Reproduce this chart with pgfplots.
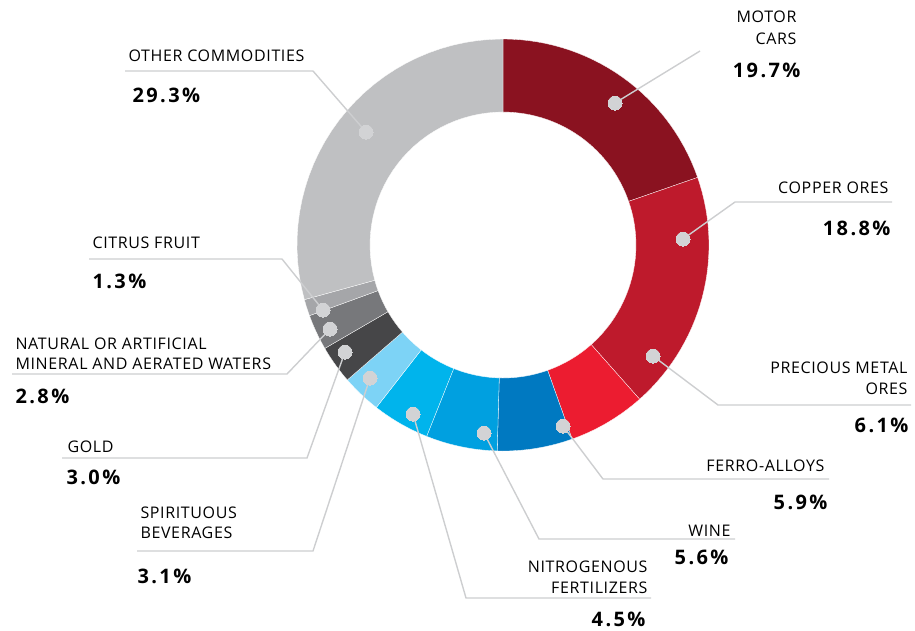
\documentclass[border=0pt]{standalone}
\usepackage{pgfplots}
\pgfplotsset{compat=1.18}
\usepackage{fontspec}
\setmainfont{Open Sans}[LetterSpace=4]
\newfontfamily\numfont{Open Sans}[LetterSpace=12]

\definecolor{cMotor}{HTML}{8A1220}
\definecolor{cCopper}{HTML}{BE1A2C}
\definecolor{cPrec}{HTML}{EC1C30}
\definecolor{cFerro}{HTML}{0079C1}
\definecolor{cWine}{HTML}{00A0E0}
\definecolor{cNitro}{HTML}{00B4EC}
\definecolor{cSpirit}{HTML}{7DD3F6}
\definecolor{cGold}{HTML}{464648}
\definecolor{cWater}{HTML}{77787B}
\definecolor{cCitrus}{HTML}{A5A6A9}
\definecolor{cOther}{HTML}{BFC0C2}
\definecolor{cDot}{HTML}{D2D3D5}
\definecolor{cLead}{HTML}{CDCED0}

% donut geometry, in pixels of the reference
\def\cx{503}\def\cy{245}\def\Ro{206}\def\Ri{133}
\pgfmathsetmacro\k{360/100.1}
\gdef\cum{0}

% one ring slice: value (percent), colour
% t = 0..30 runs along the outer arc, t = 31..61 back along the inner arc
\newcommand\slice[2]{%
  \edef\doslice{\noexpand\addplot[fill=#2, draw=white, line width=0.3pt,
      domain=0:61, samples=62, variable=\noexpand\t]
    ({\cx+(\noexpand\t<=30?\Ro:\Ri)*sin(\k*(\cum+#1*(\noexpand\t<=30?\noexpand\t:61-\noexpand\t)/30))},
     {\cy-(\noexpand\t<=30?\Ro:\Ri)*cos(\k*(\cum+#1*(\noexpand\t<=30?\noexpand\t:61-\noexpand\t)/30))}) -- cycle;}%
  \doslice
  \pgfmathsetmacro\tmp{\cum+#1}\xdef\cum{\tmp}%
}

\newcommand\lbl{\fontsize{16}{19}\selectfont}
\newcommand\pct{\numfont\bfseries\fontsize{20}{24}\selectfont}

\begin{document}
\begin{tikzpicture}
\begin{axis}[
  width=915pt, height=630pt, scale only axis,
  xmin=0, xmax=915, ymin=0, ymax=630, y dir=reverse,
  hide axis, clip=false,
]
\slice{19.7}{cMotor}
\slice{18.8}{cCopper}
\slice{6.1}{cPrec}
\slice{5.9}{cFerro}
\slice{5.6}{cWine}
\slice{4.5}{cNitro}
\slice{3.1}{cSpirit}
\slice{3.0}{cGold}
\slice{2.8}{cWater}
\slice{1.3}{cCitrus}
\slice{29.3}{cOther}

% leader lines
\addplot[cLead, line width=1.4pt] coordinates {(700,51) (615,103)};
\addplot[cLead, line width=1.4pt] coordinates {(892,202) (735,202) (683,239)};
\addplot[cLead, line width=1.4pt] coordinates {(911,405) (718,405) (653,356)};
\addplot[cLead, line width=1.4pt] coordinates {(829,479) (603,479) (563,426)};
\addplot[cLead, line width=1.4pt] coordinates {(735,539) (539,539) (484,433)};
\addplot[cLead, line width=1.4pt] coordinates {(651,598) (466,598) (413,414)};
\addplot[cLead, line width=1.4pt] coordinates {(137,551) (313,551) (370,378)};
\addplot[cLead, line width=1.4pt] coordinates {(62,458) (307,458) (345,352)};
\addplot[cLead, line width=1.4pt] coordinates {(12,374) (287,374) (330,329)};
\addplot[cLead, line width=1.4pt] coordinates {(89,259) (282,259) (323,310)};
\addplot[cLead, line width=1.4pt] coordinates {(125,71) (313,71) (366,132)};

% dots
\addplot[only marks, color=cDot, mark=*, mark size=7pt,
         mark options={fill=cDot, draw=cDot, line width=0pt}]
  coordinates {(615,103) (683,239) (653,356) (563,426) (484,433) (413,414)
               (370,378) (345,352) (330,329) (323,310) (366,132)};

% labels
\node[anchor=base east, font=\lbl] at (axis cs:800,22) {MOTOR};
\node[anchor=base east, font=\lbl] at (axis cs:800,44) {CARS};
\node[anchor=base east, font=\pct] at (axis cs:804,77) {19.7\%};

\node[anchor=base east, font=\lbl] at (axis cs:892,193) {COPPER ORES};
\node[anchor=base east, font=\pct] at (axis cs:894,235) {18.8\%};

\node[anchor=base east, font=\lbl] at (axis cs:911,373) {PRECIOUS METAL};
\node[anchor=base east, font=\lbl] at (axis cs:911,394) {ORES};
\node[anchor=base east, font=\pct] at (axis cs:912,432) {6.1\%};

\node[anchor=base east, font=\lbl] at (axis cs:828,471) {FERRO-ALLOYS};
\node[anchor=base east, font=\pct] at (axis cs:831,509) {5.9\%};

\node[anchor=base east, font=\lbl] at (axis cs:734,536) {WINE};
\node[anchor=base east, font=\pct] at (axis cs:732,564) {5.6\%};

\node[anchor=base east, font=\lbl] at (axis cs:651,572) {NITROGENOUS};
\node[anchor=base east, font=\lbl] at (axis cs:651,593) {FERTILIZERS};
\node[anchor=base east, font=\pct] at (axis cs:649,626) {4.5\%};

\node[anchor=base west, font=\lbl] at (axis cs:125,61) {OTHER COMMODITIES};
\node[anchor=base west, font=\pct] at (axis cs:129,102) {29.3\%};

\node[anchor=base west, font=\lbl] at (axis cs:89,248) {CITRUS FRUIT};
\node[anchor=base west, font=\pct] at (axis cs:89,288) {1.3\%};

\node[anchor=base west, font=\lbl] at (axis cs:12,349) {NATURAL OR ARTIFICIAL};
\node[anchor=base west, font=\lbl] at (axis cs:12,369) {MINERAL AND AERATED WATERS};
\node[anchor=base west, font=\pct] at (axis cs:12,403) {2.8\%};

\node[anchor=base west, font=\lbl] at (axis cs:64,452) {GOLD};
\node[anchor=base west, font=\pct] at (axis cs:63,484) {3.0\%};

\node[anchor=base west, font=\lbl] at (axis cs:137,518) {SPIRITUOUS};
\node[anchor=base west, font=\lbl] at (axis cs:137,538) {BEVERAGES};
\node[anchor=base west, font=\pct] at (axis cs:134,583) {3.1\%};
\end{axis}
\pgfresetboundingbox
\path[use as bounding box] (current axis.south west) rectangle (current axis.north east);
\end{tikzpicture}
\end{document}
